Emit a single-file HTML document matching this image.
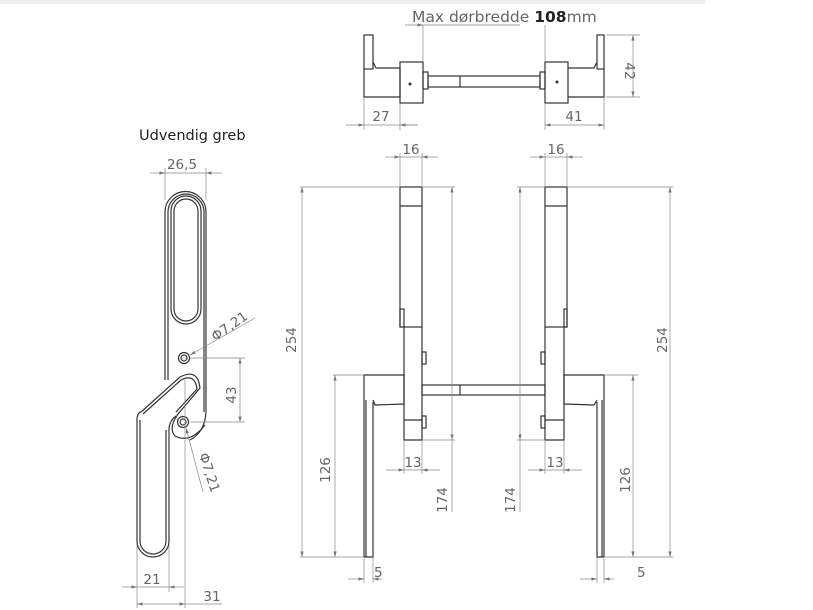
<!DOCTYPE html>
<html><head><meta charset="utf-8"><style>
html,body{margin:0;padding:0;background:#fff;}
svg{display:block;}
text{font-family:"DejaVu Sans","Liberation Sans",sans-serif;fill:#666;font-size:13.5px;}
.o{fill:none;stroke:#333;stroke-width:1.2;}
.d{fill:none;stroke:#888;stroke-width:0.7;}
</style></head><body>
<svg width="813" height="610" viewBox="0 0 813 610" xmlns="http://www.w3.org/2000/svg">
<defs><marker id="a" viewBox="0 0 10 6" refX="10" refY="3" markerWidth="8" markerHeight="5" orient="auto-start-reverse"><path d="M0,0L10,3L0,6z" fill="#777"/></marker></defs>
<rect x="0" y="0" width="705" height="4" fill="#eee"/>

<!-- TOP VIEW -->
<g class="o">
<rect x="364" y="35" width="9" height="34"/>
<path d="M364,69 L364,97 L400,97 L400,68 L376,68 L373,62"/>
<rect x="400" y="62" width="23" height="41"/>
<rect x="423" y="72" width="5" height="17"/>
<rect x="428" y="76" width="112" height="11"/>
<line x1="460" y1="76" x2="460" y2="87"/>
<rect x="540" y="72" width="5" height="17"/>
<rect x="545" y="62" width="23" height="41"/>
<path d="M568,68 L594,68 L597,62 M568,97 L604,97 L604,69"/>
<rect x="597" y="35" width="7" height="34"/>
</g>
<circle cx="410" cy="84" r="1.5" fill="#333"/><circle cx="557" cy="82" r="1.5" fill="#333"/>
<g class="d">
<line x1="423" y1="25" x2="423" y2="62"/><line x1="545" y1="25" x2="545" y2="62"/>
<line x1="405" y1="25" x2="423" y2="25" marker-end="url(#a)"/>
<line x1="423" y1="25" x2="520" y2="25"/>
<line x1="606" y1="35" x2="640" y2="35"/><line x1="606" y1="97" x2="640" y2="97"/>
<line x1="633" y1="35" x2="633" y2="97" marker-start="url(#a)" marker-end="url(#a)"/>
<line x1="364" y1="97" x2="364" y2="130"/><line x1="400" y1="103" x2="400" y2="130"/>
<line x1="346" y1="125" x2="364" y2="125" marker-end="url(#a)"/><line x1="364" y1="125" x2="418" y2="125"/>
<line x1="400" y1="125" x2="418" y2="125" marker-start="url(#a)"/>
<line x1="545" y1="103" x2="545" y2="130"/><line x1="604" y1="97" x2="604" y2="130"/>
<line x1="545" y1="125" x2="604" y2="125" marker-start="url(#a)" marker-end="url(#a)"/>
</g>
<text x="412" y="22" style="font-size:15.5px">Max dørbredde <tspan style="font-weight:bold;fill:#222">108</tspan>mm</text>
<text x="630" y="66" transform="rotate(90 625 66)" text-anchor="middle">42</text>
<text x="381" y="121" text-anchor="middle">27</text>
<text x="574" y="121" text-anchor="middle">41</text>

<!-- GRIP VIEW -->
<text x="139" y="140" style="font-size:14.5px;fill:#222">Udvendig greb</text>
<g class="o">
<path d="M165,380 L165,212 A20.5,20.5 0 0 1 206,212 L206,412 Q205,432 190,440"/>
<path d="M168,380 L168,212 A18,18 0 0 1 204,212 L204,412"/>
<rect x="171" y="196" width="30" height="128" rx="15"/>
<rect x="174" y="199" width="24" height="122" rx="12"/>
<circle cx="184" cy="358" r="5.5"/><circle cx="184" cy="358" r="3"/>
<circle cx="183" cy="422" r="5.5"/><circle cx="183" cy="422" r="3"/>
<path d="M141,412 L180,377 Q198,368 200,388 L178,414 Q168,428 175,436 Q190,444 205,425"/>
<path d="M143,414 L181,380 Q195,373 197,389 L176,412"/>
<path d="M137,418 Q138,412 141,412 M137,418 L137,541 A16,16 0 0 0 169,541 L169,428 Q170,420 176,416"/>
<path d="M140,420 L140,541 A13,13 0 0 0 166,541 L166,430"/>
</g>
<g class="d">
<line x1="165" y1="168" x2="165" y2="200"/><line x1="206" y1="168" x2="206" y2="200"/>
<line x1="150" y1="173" x2="165" y2="173" marker-end="url(#a)"/><line x1="165" y1="173" x2="206" y2="173"/>
<line x1="206" y1="173" x2="222" y2="173" marker-start="url(#a)"/>
<line x1="190" y1="358" x2="245" y2="358"/><line x1="190" y1="422" x2="245" y2="422"/>
<line x1="240" y1="358" x2="240" y2="422" marker-start="url(#a)" marker-end="url(#a)"/>
<line x1="255" y1="318" x2="190" y2="355" marker-end="url(#a)"/>
<line x1="203" y1="492" x2="186" y2="428" marker-end="url(#a)"/>
<line x1="185" y1="380" x2="185" y2="608"/>
<line x1="137" y1="545" x2="137" y2="608"/><line x1="169" y1="545" x2="169" y2="592"/>
<line x1="122" y1="587" x2="137" y2="587" marker-end="url(#a)"/><line x1="137" y1="587" x2="169" y2="587"/>
<line x1="169" y1="587" x2="184" y2="587" marker-start="url(#a)"/>
<line x1="137" y1="604" x2="185" y2="604" marker-start="url(#a)" marker-end="url(#a)"/>
<line x1="185" y1="604" x2="222" y2="604"/>
</g>
<text x="182" y="169" text-anchor="middle">26,5</text>
<text x="236" y="395" transform="rotate(-90 236 395)" text-anchor="middle">43</text>
<text x="232" y="330" transform="rotate(-35 232 330)" text-anchor="middle">Φ7,21</text>
<text x="205" y="474" transform="rotate(72 205 474)" text-anchor="middle">Φ7,21</text>
<text x="152" y="584" text-anchor="middle">21</text>
<text x="212" y="601" text-anchor="middle">31</text>

<!-- FRONT VIEWS -->
<g class="o">
<rect x="400" y="187" width="22" height="140"/><line x1="400" y1="206" x2="422" y2="206"/>
<path d="M404,327 L404,440 L422,440 L422,327"/>
<line x1="404" y1="420" x2="422" y2="420"/>
<rect x="400" y="309" width="4" height="18"/>
<rect x="422" y="352" width="4" height="12"/><rect x="422" y="416" width="4" height="12"/>
<rect x="422" y="385" width="123" height="10"/><line x1="460" y1="385" x2="460" y2="395"/>
<path d="M364,557 L364,375 L404,375 L404,404 L375,405 L373,400 M373,402 L373,557 L364,557"/>
<line x1="366" y1="400" x2="366" y2="557"/>
<rect x="545" y="187" width="22" height="140"/><line x1="545" y1="206" x2="567" y2="206"/>
<path d="M545,327 L545,440 L564,440 L564,327"/>
<line x1="545" y1="420" x2="564" y2="420"/>
<rect x="564" y="309" width="3" height="18"/>
<rect x="541" y="352" width="4" height="12"/><rect x="541" y="416" width="4" height="12"/>
<path d="M604,557 L604,375 L564,375 L564,404 L594,405 L597,400 M597,402 L597,557 L604,557"/>
<line x1="602" y1="400" x2="602" y2="557"/>
</g>
<g class="d">
<line x1="400" y1="153" x2="400" y2="187"/><line x1="422" y1="153" x2="422" y2="187"/>
<line x1="385" y1="157" x2="400" y2="157" marker-end="url(#a)"/><line x1="400" y1="157" x2="422" y2="157"/>
<line x1="422" y1="157" x2="438" y2="157" marker-start="url(#a)"/>
<line x1="545" y1="153" x2="545" y2="187"/><line x1="567" y1="153" x2="567" y2="187"/>
<line x1="530" y1="157" x2="545" y2="157" marker-end="url(#a)"/><line x1="545" y1="157" x2="567" y2="157"/>
<line x1="567" y1="157" x2="583" y2="157" marker-start="url(#a)"/>
<line x1="300" y1="187" x2="400" y2="187"/><line x1="567" y1="187" x2="673" y2="187"/>
<line x1="300" y1="557" x2="364" y2="557"/><line x1="604" y1="557" x2="673" y2="557"/>
<line x1="302" y1="187" x2="302" y2="557" marker-start="url(#a)" marker-end="url(#a)"/>
<line x1="670" y1="187" x2="670" y2="557" marker-start="url(#a)" marker-end="url(#a)"/>
<line x1="333" y1="375" x2="364" y2="375"/><line x1="604" y1="375" x2="638" y2="375"/>
<line x1="335" y1="375" x2="335" y2="557" marker-start="url(#a)" marker-end="url(#a)"/>
<line x1="633" y1="375" x2="633" y2="557" marker-start="url(#a)" marker-end="url(#a)"/>
<line x1="422" y1="187" x2="455" y2="187"/><line x1="422" y1="440" x2="455" y2="440"/>
<line x1="452" y1="187" x2="452" y2="440" marker-start="url(#a)" marker-end="url(#a)"/>
<line x1="452" y1="440" x2="452" y2="512"/>
<line x1="517" y1="187" x2="545" y2="187"/><line x1="517" y1="440" x2="545" y2="440"/>
<line x1="520" y1="187" x2="520" y2="440" marker-start="url(#a)" marker-end="url(#a)"/>
<line x1="520" y1="440" x2="520" y2="512"/>
<line x1="404" y1="440" x2="404" y2="474"/><line x1="422" y1="440" x2="422" y2="474"/>
<line x1="386" y1="470" x2="404" y2="470" marker-end="url(#a)"/><line x1="404" y1="470" x2="422" y2="470"/>
<line x1="422" y1="470" x2="440" y2="470" marker-start="url(#a)"/>
<line x1="545" y1="440" x2="545" y2="474"/><line x1="564" y1="440" x2="564" y2="474"/>
<line x1="528" y1="470" x2="545" y2="470" marker-end="url(#a)"/><line x1="545" y1="470" x2="564" y2="470"/>
<line x1="564" y1="470" x2="582" y2="470" marker-start="url(#a)"/>
<line x1="364" y1="557" x2="364" y2="583"/><line x1="373" y1="557" x2="373" y2="583"/>
<line x1="348" y1="579" x2="364" y2="579" marker-end="url(#a)"/><line x1="373" y1="579" x2="382" y2="579" marker-start="url(#a)"/>
<line x1="597" y1="557" x2="597" y2="583"/><line x1="604" y1="557" x2="604" y2="583"/>
<line x1="580" y1="579" x2="597" y2="579" marker-end="url(#a)"/><line x1="604" y1="579" x2="614" y2="579" marker-start="url(#a)"/>
</g>
<text x="411" y="154" text-anchor="middle">16</text>
<text x="556" y="154" text-anchor="middle">16</text>
<text x="296" y="340" transform="rotate(-90 296 340)" text-anchor="middle">254</text>
<text x="667" y="340" transform="rotate(-90 667 340)" text-anchor="middle">254</text>
<text x="330" y="470" transform="rotate(-90 330 470)" text-anchor="middle">126</text>
<text x="630" y="480" transform="rotate(-90 630 480)" text-anchor="middle">126</text>
<text x="447" y="500" transform="rotate(-90 447 500)" text-anchor="middle">174</text>
<text x="515" y="500" transform="rotate(-90 515 500)" text-anchor="middle">174</text>
<text x="413" y="467" text-anchor="middle">13</text>
<text x="555" y="467" text-anchor="middle">13</text>
<text x="374" y="577">5</text>
<text x="637" y="577">5</text>
</svg>
</body></html>
